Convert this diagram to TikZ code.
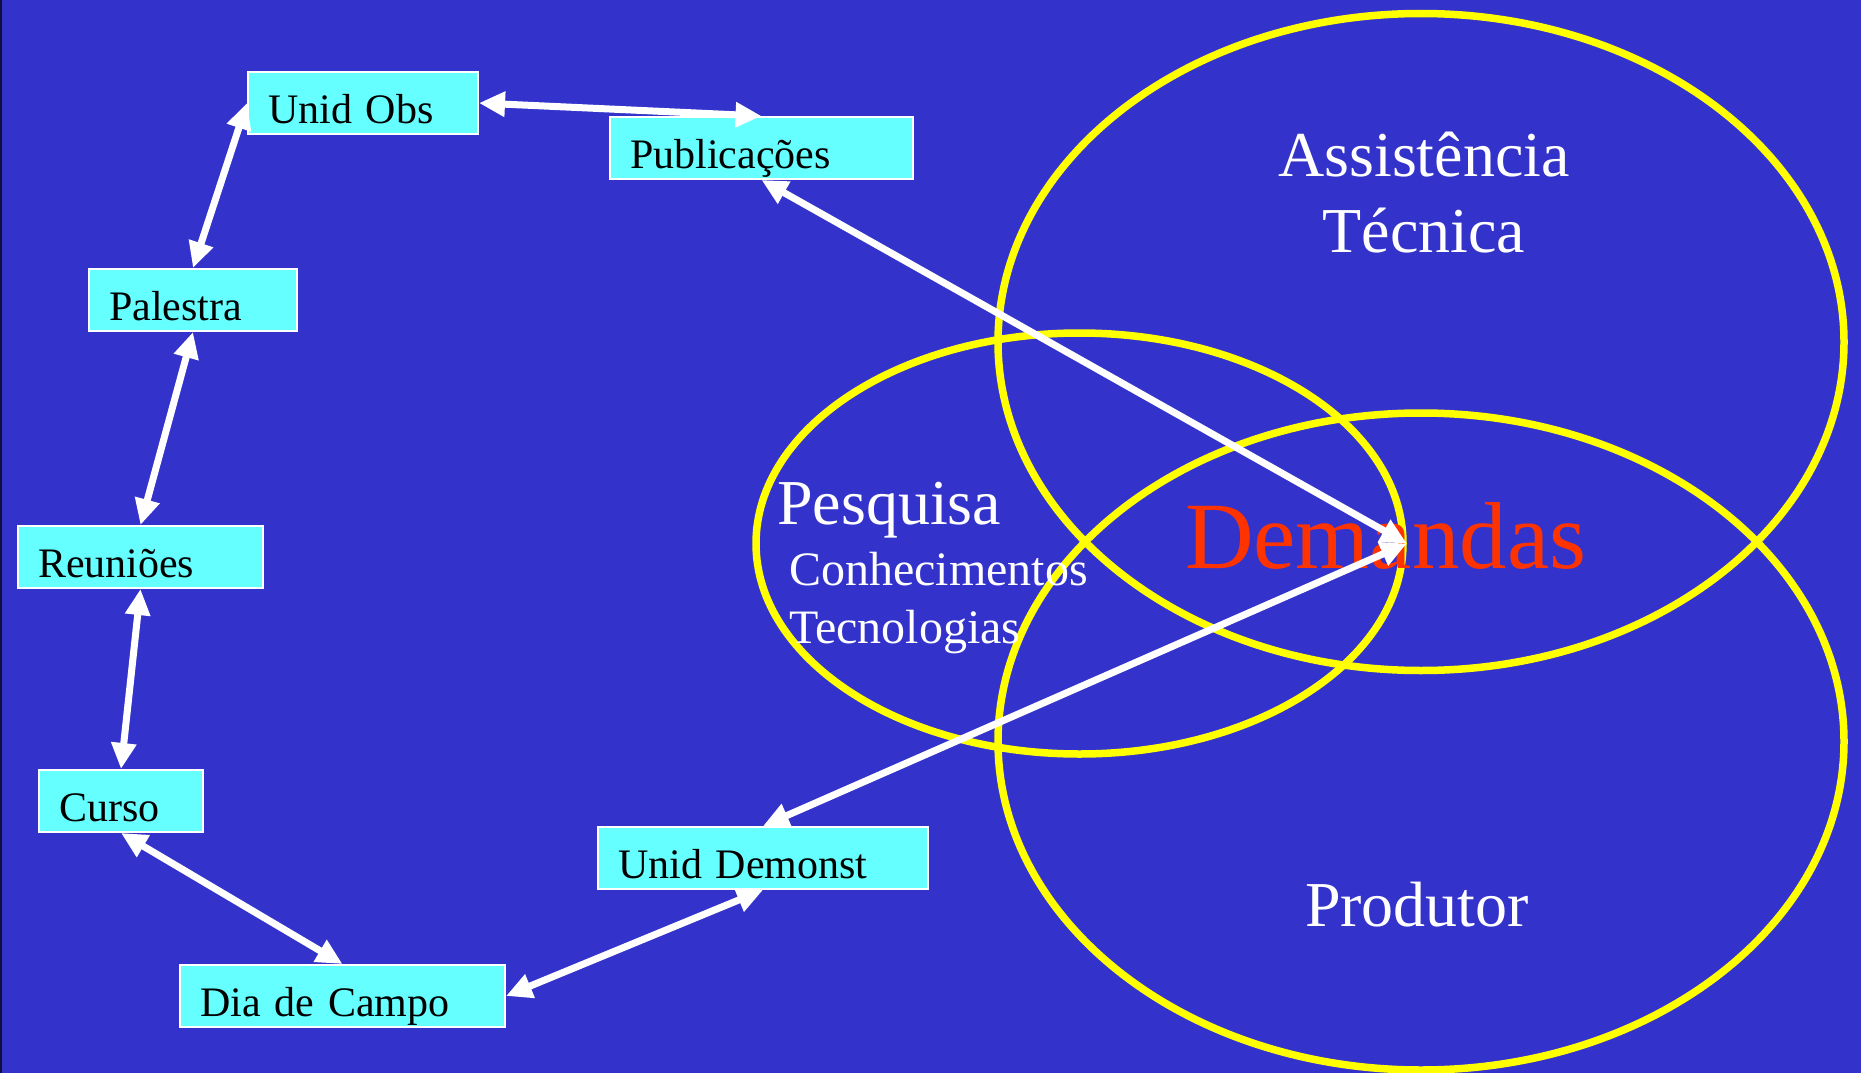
\documentclass[tikz,border=0pt]{standalone}
\usepackage{fontspec}
\setmainfont{Liberation Serif}
\usetikzlibrary{positioning, shapes.geometric, arrows.meta}
\definecolor{slideblue}{HTML}{3333CC}
\definecolor{boxcyan}{HTML}{66FFFF}
\definecolor{ringyellow}{HTML}{FFFF00}
\definecolor{demandred}{HTML}{FF3300}

\begin{document}
\begin{tikzpicture}
    [
        x=1pt, y=1pt,
        box/.style={rectangle, fill=boxcyan, draw=white, line width=2pt,
                    inner xsep=20pt, inner ysep=0pt, text height=51pt,
                    text depth=11pt, align=left, text width=#1,
                    anchor=north west, font=\fontsize{42}{50}\selectfont},
        ring/.style={ellipse, draw=ringyellow, line width=7.5pt, inner sep=0pt},
        link/.style={{Triangle[length=26pt, width=24pt]}-{Triangle[length=26pt, width=24pt]},
                     white, line width=7pt},
        topic/.style={text=white, inner sep=0pt, font=\fontsize{64}{76}\selectfont},
        subtopic/.style={text=white, inner sep=0pt, font=\fontsize{48}{56}\selectfont}
    ]
    \useasboundingbox (0,0) rectangle (1861,-1073);
    \fill [slideblue] (0,0) rectangle (1861,-1073);
    \draw [line width=2pt, black!70!slideblue] (1,0) -- (1,-1073);

    \node (assistring) [ring, minimum width=846pt, minimum height=657pt] at (1421,-342) {};
    \node (prodring) [ring, minimum width=846pt, minimum height=657pt] at (1421,-741.5) {};
    \node (pesqring) [ring, minimum width=647pt, minimum height=421pt] at (1079.5,-543.5) {};

    \node (assist) [topic, anchor=base] at (1424,-176) {Assistência};
    \node (tecnica) [topic, below=76pt of assist.base, anchor=base] {Técnica};
    \node (pesq) [topic, anchor=base west] at (777,-524) {Pesquisa};
    \node (conhec) [subtopic, below=61pt of pesq.base west, anchor=base west, xshift=12pt] {Conhecimentos};
    \node (tecnol) [subtopic, below=58pt of conhec.base west, anchor=base west] {Tecnologias};
    \node (demandas) [text=demandred, inner sep=0pt, font=\fontsize{95}{110}\selectfont,
                      anchor=base west] at (1185,-568) {Demandas};
    \node (produtor) [topic, anchor=base] at (1417,-926) {Produtor};

    \node (unidobs) [box=190pt] at (247,-71) {Unid Obs};
    \node (pub) [box=263pt] at (609,-116) {Publicações};
    \node (palestra) [box=168pt] at (88,-268) {Palestra};
    \node (reunioes) [box=205pt] at (17,-525) {Reuniões};
    \node (curso) [box=124pt] at (38,-769) {Curso};
    \node (dia) [box=285pt] at (179,-964) {Dia de Campo};
    \node (demonst) [box=290pt] at (597,-826) {Unid Demonst};

    \draw [link] (unidobs.east) -- (pub.north);
    \draw [link] (unidobs.west) -- (palestra.north);
    \draw [link] (palestra.south) -- (reunioes.north);
    \draw [link] (reunioes.south) -- (curso.north);
    \draw [link] (curso.south) -- (dia.north);
    \draw [link] (dia.east) -- (demonst.south);
    \draw [link] (pub.south) -- (pesqring.east);
    \draw [link] (demonst.north) -- (pesqring.east);
\end{tikzpicture}
\end{document}
